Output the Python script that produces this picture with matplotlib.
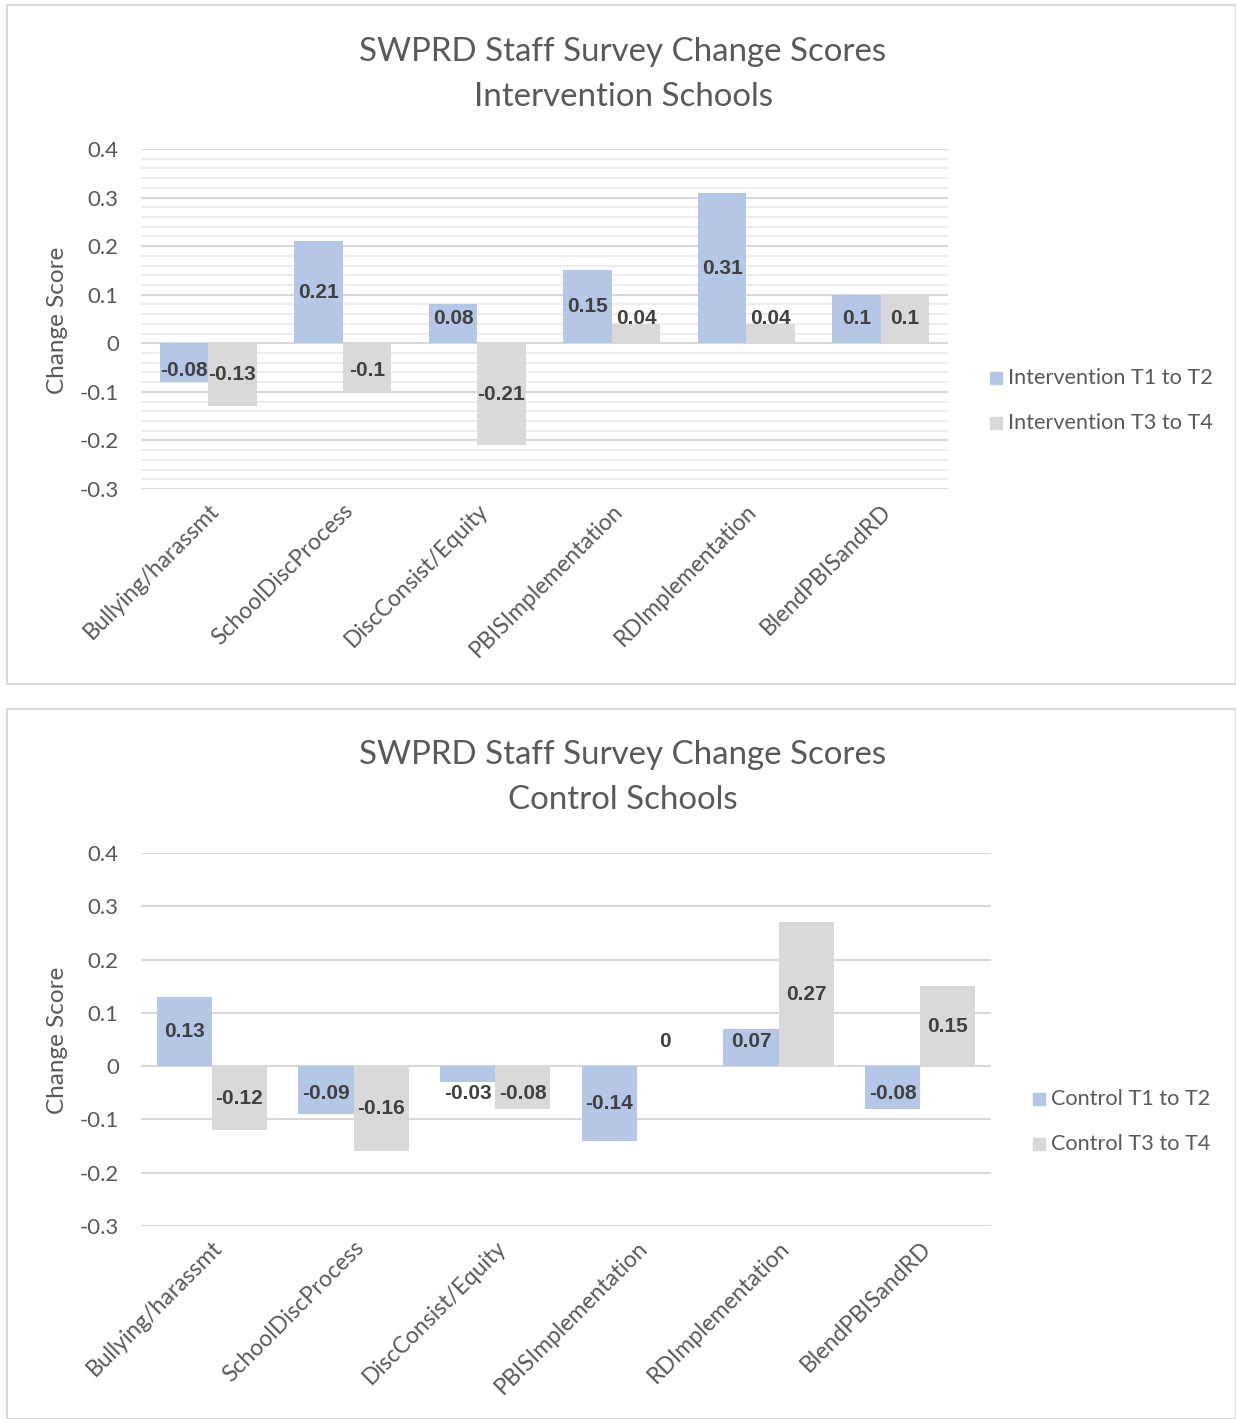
import numpy as np
import matplotlib.pyplot as plt
from matplotlib.patches import Rectangle
from matplotlib.ticker import MultipleLocator

categories = ["Bullying/harassmt", "SchoolDiscProcess", "DiscConsist/Equity",
              "PBISImplementation", "RDImplementation", "BlendPBISandRD"]

interv_t1_t2 = [-0.08, 0.21, 0.08, 0.15, 0.31, 0.1]
interv_t3_t4 = [-0.13, -0.1, -0.21, 0.04, 0.04, 0.1]

control_t1_t2 = [0.13, -0.09, -0.03, -0.14, 0.07, -0.08]
control_t3_t4 = [-0.12, -0.16, -0.08, 0, 0.27, 0.15]

yticks = [-0.3, -0.2, -0.1, 0, 0.1, 0.2, 0.3, 0.4]

BLUE = "#b4c7e7"
GREY = "#d9d9d9"
TXT = "#595959"
LBL = "#404040"

plt.rcParams['font.family'] = ['Lato', 'DejaVu Sans']

W, H = 1236, 1419
fig = plt.figure(figsize=(W / 100, H / 100), dpi=100)


def px(x, y, w, h):
    # pixel box (from top-left) -> figure fraction
    return [x / W, 1 - (y + h) / H, w / W, h / H]


# panel borders
for (x0, y0, x1, y1) in [(7, 5, 1236, 684), (7, 709, 1236, 1419)]:
    fig.patches.append(Rectangle((x0 / W, 1 - y1 / H), (x1 - x0) / W, (y1 - y0) / H,
                                 transform=fig.transFigure, fill=False,
                                 edgecolor="#d9d9d9", linewidth=1.5))


def draw_panel(box, s1, s2, names, width, minor, title_y, leg_y, leg_x, ylab_y):
    ax = fig.add_axes(px(*box))
    x = np.arange(len(categories))
    b1 = ax.bar(x - width / 2, s1, width, color=BLUE, label=names[0], zorder=3)
    b2 = ax.bar(x + width / 2, s2, width, color=GREY, label=names[1], zorder=3)
    ppu = box[3] / 0.7  # pixels per data unit
    for bars, vals in [(b1, s1), (b2, s2)]:
        for b, v in zip(bars, vals):
            # centred in the bar, but kept clear of the zero line on short bars
            if v >= 0:
                off = max(v / 2 * ppu, 25)
            else:
                off = -max(-v / 2 * ppu, 27)
            ax.annotate(f"{v:g}", (b.get_x() + b.get_width() / 2, 0),
                        xytext=(0, off * 0.72), textcoords="offset points",
                        ha="center", va="center", fontsize=15,
                        family=['Liberation Sans', 'DejaVu Sans'],
                        fontweight="bold", color=LBL, zorder=5)
    ax.set_xlim(-0.5, len(categories) - 0.5)
    ax.set_ylim(-0.3, 0.4)
    ax.set_yticks(yticks)
    ax.set_yticklabels([f"{t:g}" for t in yticks])
    ax.yaxis.grid(True, which="major", color="#d9d9d9", linewidth=1.5, zorder=1)
    if minor:
        ax.yaxis.set_minor_locator(MultipleLocator(0.02))
        ax.yaxis.grid(True, which="minor", color="#ededed", linewidth=1.5, zorder=0)
    ax.set_axisbelow(True)
    for sp in ax.spines.values():
        sp.set_visible(False)
    ax.tick_params(axis="both", which="both", length=0, labelsize=16, colors=TXT)
    ax.tick_params(axis="y", pad=16)
    ax.set_xticks(x)
    ax.set_xticklabels(categories, rotation=45, ha="right", rotation_mode="anchor")
    ax.tick_params(axis="x", pad=8, labelsize=16.5)
    fig.text(58 / W, 1 - ylab_y / H, "Change Score", rotation=90, ha="center",
             va="center", fontsize=17.5, color=TXT)
    fig.text(623 / W, 1 - title_y[0] / H, title_y[2], ha="center", va="center",
             fontsize=23.8, color=TXT)
    fig.text(623 / W, 1 - title_y[1] / H, title_y[3], ha="center", va="center",
             fontsize=23.8, color=TXT)
    for i, (nm, col) in enumerate(zip(names, [BLUE, GREY])):
        yy = leg_y + 45 * i
        fig.patches.append(Rectangle(((leg_x - 6) / W, 1 - (yy + 6) / H), 12 / W, 12 / H,
                                     transform=fig.transFigure, color=col))
        fig.text((leg_x + 12) / W, 1 - yy / H, nm, ha="left", va="center",
                 fontsize=15.6, color=TXT)
    return ax


draw_panel((141, 149, 807, 340), interv_t1_t2, interv_t3_t4,
           ["Intervention T1 to T2", "Intervention T3 to T4"], 0.36, True,
           (52, 97, "SWPRD Staff Survey Change Scores", "Intervention Schools"),
           378, 996, 320)

draw_panel((141, 853, 850, 373), control_t1_t2, control_t3_t4,
           ["Control T1 to T2", "Control T3 to T4"], 0.39, False,
           (755, 800, "SWPRD Staff Survey Change Scores", "Control Schools"),
           1099, 1039, 1040)

fig.savefig("out.png", dpi=100)
